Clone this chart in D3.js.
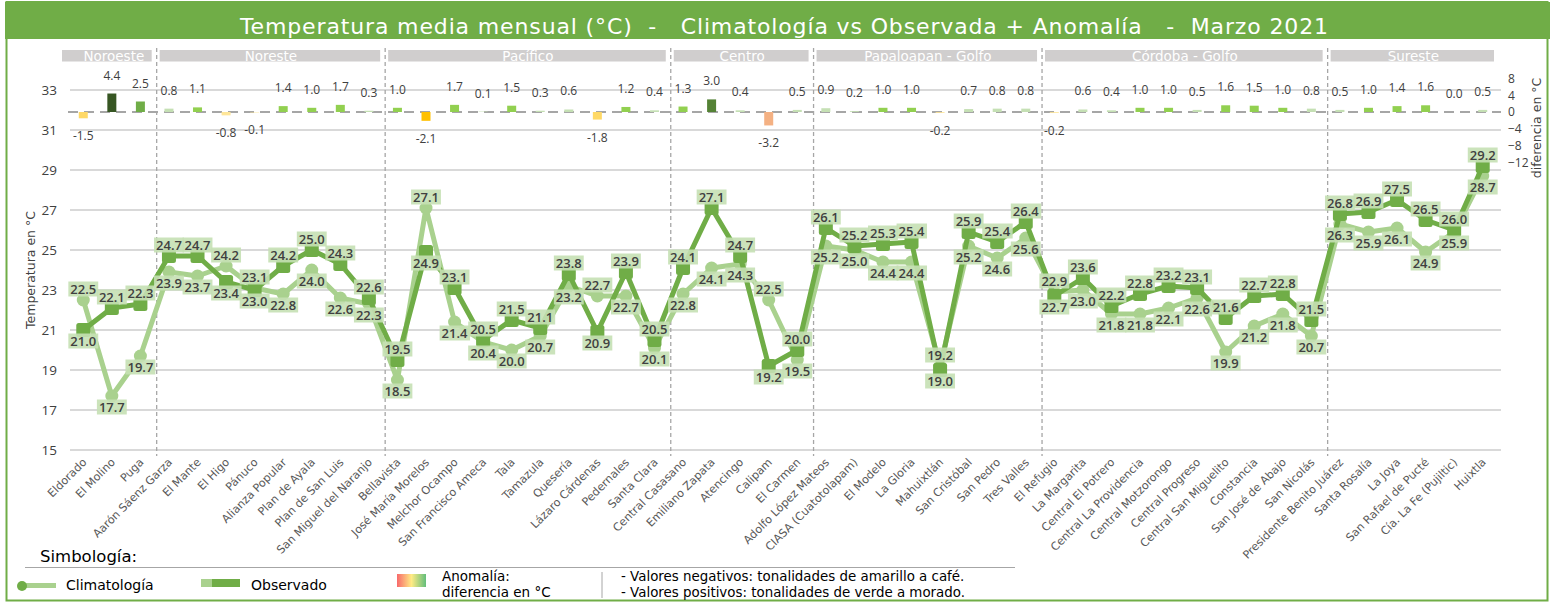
<!DOCTYPE html>
<html><head><meta charset="utf-8">
<script src="https://cdn.jsdelivr.net/npm/d3@7"></script>
<style>
body{margin:0;background:#fff;}
svg text{font-family:"DejaVu Sans","Open Sans",sans-serif;}
svg text.num{font-family:"Open Sans","Noto Sans",sans-serif;}
</style></head>
<body><svg id="c" width="1550" height="607"></svg>
<script>
const regions = ["Noroeste","Noreste","Pacífico","Centro","Papaloapan - Golfo","Córdoba - Golfo","Sureste"];
const regionSizes = [3,8,10,5,8,10,6];
const stations = ["Eldorado","El Molino","Puga",
 "Aarón Sáenz Garza","El Mante","El Higo","Pánuco","Alianza Popular","Plan de Ayala","Plan de San Luis","San Miguel del Naranjo",
 "Bellavista","José María Morelos","Melchor Ocampo","San Francisco Ameca","Tala","Tamazula","Quesería","Lázaro Cárdenas","Pedernales","Santa Clara",
 "Central Casasano","Emiliano Zapata","Atencingo","Calipam","El Carmen",
 "Adolfo López Mateos","CIASA (Cuatotolapam)","El Modelo","La Gloria","Mahuixtlán","San Cristóbal","San Pedro","Tres Valles",
 "El Refugio","La Margarita","Central El Potrero","Central La Providencia","Central Motzorongo","Central Progreso","Central San Miguelito","Constancia","San José de Abajo","San Nicolás",
 "Presidente Benito Juárez","Santa Rosalía","La Joya","San Rafael de Pucté","Cía. La Fe (Pujiltic)","Huixtla"];
const climatologia = [22.5,17.7,19.7,
 23.9,23.7,24.2,23.1,22.8,24.0,22.6,22.3,
 18.5,27.1,21.4,20.4,20.0,20.7,23.2,22.7,22.7,20.1,
 22.8,24.1,24.3,22.5,19.5,
 25.2,25.0,24.4,24.4,19.2,25.2,24.6,25.6,
 22.9,23.0,21.8,21.8,22.1,22.6,19.9,21.2,21.8,20.7,
 26.3,25.9,26.1,24.9,25.9,28.7];
const observado = [21.0,22.1,22.3,
 24.7,24.7,23.4,23.0,24.2,25.0,24.3,22.6,
 19.5,24.9,23.1,20.5,21.5,21.1,23.8,20.9,23.9,20.5,
 24.1,27.1,24.7,19.2,20.0,
 26.1,25.2,25.3,25.4,19.0,25.9,25.4,26.4,
 22.7,23.6,22.2,22.8,23.2,23.1,21.6,22.7,22.8,21.5,
 26.8,26.9,27.5,26.5,26.0,29.2];
const anomalia = [-1.5,4.4,2.5,
 0.8,1.1,-0.8,-0.1,1.4,1.0,1.7,0.3,
 1.0,-2.1,1.7,0.1,1.5,0.3,0.6,-1.8,1.2,0.4,
 1.3,3.0,0.4,-3.2,0.5,
 0.9,0.2,1.0,1.0,-0.2,0.7,0.8,0.8,
 -0.2,0.6,0.4,1.0,1.0,0.5,1.6,1.5,1.0,0.8,
 0.5,1.0,1.4,1.6,0.0,0.5];
const tempTicks = [15,17,19,21,23,25,27,29,31,33];
const anomTicks = [8,4,0,-4,-8,-12];

const svg = d3.select("#c");
const GREEN="#70AD47", LGREEN="#A9D18E", LBL="#C5E0B4", TXT="#404040";

// frame + title
svg.append("rect").attr("x",6.5).attr("y",2).attr("width",1541).attr("height",598.5)
  .attr("fill","none").attr("stroke",GREEN).attr("stroke-width",2);
svg.append("rect").attr("x",5).attr("y",2).attr("width",1545).attr("height",37).attr("fill",GREEN);
svg.append("text").attr("x",240).attr("y",34).attr("fill","#fff")
  .attr("font-size",22).attr("xml:space","preserve")
  .attr("textLength",1088).attr("lengthAdjust","spacing")
  .text("Temperatura media mensual (°C)  -   Climatología vs Observada + Anomalía   -  Marzo 2021");

const x = d3.scaleBand().domain(stations).range([69,1497]);
const cx = d => x(d)+x.bandwidth()/2;
const y = d3.scaleLinear().domain([15,35]).range([450,50]);
const ya = d3.scaleLinear().domain([-12,8]).range([162.4,78.4]);

// gridlines
svg.append("g").selectAll("line").data(tempTicks).join("line")
  .attr("x1",70).attr("x2",1501).attr("y1",d=>y(d)).attr("y2",d=>y(d))
  .attr("stroke","#D9D9D9").attr("stroke-width",2);
// left axis
const yAxis = d3.axisLeft(y).tickValues(tempTicks).tickSize(0).tickPadding(0);
const gy = svg.append("g").attr("transform","translate(57,0)").call(yAxis);
gy.select(".domain").remove();
gy.selectAll("text").attr("class","num").attr("font-size",13.5).attr("fill",TXT);
svg.append("text").attr("transform","translate(35,270) rotate(-90)").attr("text-anchor","middle")
  .attr("font-size",12.5).attr("fill",TXT).text("Temperatura en °C");
// right axis
const aAxis = d3.axisRight(ya).tickValues(anomTicks).tickSize(0).tickPadding(0);
const ga = svg.append("g").attr("transform","translate(1508,0)").call(aAxis);
ga.select(".domain").remove();
ga.selectAll("text").attr("class","num").attr("font-size",12).attr("fill",TXT);
svg.append("text").attr("transform","translate(1541,128) rotate(-90)").attr("text-anchor","middle")
  .attr("font-size",12.5).attr("fill",TXT).text("diferencia en °C");

// region bounds
let starts=[], acc=0;
regionSizes.forEach(n=>{starts.push(acc); acc+=n;});
const step = x.step();
const rx0 = i => 69 + starts[i]*step;
const rx1 = i => 69 + (starts[i]+regionSizes[i])*step;
// dividers
svg.append("g").selectAll("line").data(starts.slice(1)).join("line")
  .attr("x1",d=>69+d*step+2).attr("x2",d=>69+d*step+2).attr("y1",48).attr("y2",456)
  .attr("stroke","#A6A6A6").attr("stroke-width",1.3).attr("stroke-dasharray","4,3");
// headers
const hg = svg.append("g").selectAll("g").data(regions).join("g");
hg.append("rect").attr("x",(d,i)=>rx0(i)+(i===0?-7:5)).attr("y",50)
  .attr("width",(d,i)=>rx1(i)-rx0(i)-(i===0?-7:5)-3).attr("height",11.5).attr("fill","#D0CECE");
hg.append("text").attr("x",(d,i)=>(rx0(i)+rx1(i))/2+2).attr("y",61).attr("text-anchor","middle")
  .attr("fill","#fff").attr("font-size",13.5).text(d=>d);

// anomaly zero line
svg.append("line").attr("x1",68).attr("x2",1501).attr("y1",ya(0)).attr("y2",ya(0))
  .attr("stroke","#A6A6A6").attr("stroke-width",2).attr("stroke-dasharray","10,6");
// anomaly bars
const acol = v => v>=4?"#375623":v>=3?"#548235":v>=2?"#70AD47":v>=1?"#92D050":v>=0?"#C5E0B4":v>=-1?"#FFE699":v>=-2?"#FFD966":v>=-3?"#FFC000":"#F4B183";
const bw = 9;
svg.append("g").selectAll("rect").data(anomalia).join("rect")
  .attr("x",(d,i)=>cx(stations[i])-bw/2).attr("width",bw)
  .attr("y",d=>Math.min(ya(d),ya(0))).attr("height",d=>Math.abs(ya(d)-ya(0)))
  .attr("fill",d=>acol(d));
svg.append("g").selectAll("text").data(anomalia).join("text").attr("class","num")
  .attr("x",(d,i)=>cx(stations[i])).attr("y",d=>d>=0?ya(d)-18+4:ya(d)+18+4)
  .attr("text-anchor","middle").attr("font-size",12).attr("font-weight",500).attr("fill",TXT)
  .text(d=>d.toFixed(1));

// lines
const line = arr => d3.line().x((d,i)=>cx(stations[i])).y(d=>y(d))(arr);
svg.append("path").attr("d",line(climatologia)).attr("fill","none").attr("stroke",LGREEN)
  .attr("stroke-width",5).attr("stroke-linejoin","round");
svg.append("g").selectAll("circle").data(climatologia).join("circle")
  .attr("cx",(d,i)=>cx(stations[i])).attr("cy",d=>y(d)).attr("r",6.5).attr("fill",LGREEN);
svg.append("path").attr("d",line(observado)).attr("fill","none").attr("stroke",GREEN)
  .attr("stroke-width",5).attr("stroke-linejoin","round");
svg.append("g").selectAll("rect").data(observado).join("rect")
  .attr("x",(d,i)=>cx(stations[i])-7).attr("y",d=>y(d)-7).attr("width",14).attr("height",14)
  .attr("rx",2.5).attr("fill",GREEN);

// data labels
svg.append("defs").append("clipPath").attr("id","clp").append("rect")
  .attr("x",0).attr("y",0).attr("width",1503).attr("height",607);
const lg = svg.append("g").attr("clip-path","url(#clp)");
function labels(arr, other){
  const g = lg.append("g");
  arr.forEach((v,i)=>{
    const up = v >= other[i];
    const ly = y(v) + (up ? -11 : 11);
    const t = g.append("text").attr("class","num").attr("x",cx(stations[i])).attr("y",ly+4.7)
      .attr("text-anchor","middle").attr("font-size",13).attr("font-weight",600)
      .attr("fill",TXT).text(v.toFixed(1));
    const bb = t.node().getBBox();
    g.insert("rect","text").attr("x",bb.x-2).attr("y",ly-7.5).attr("width",bb.width+4).attr("height",15)
      .attr("fill",LBL).attr("opacity",0.9);
  });
}
labels(climatologia, observado);
labels(observado, climatologia);

// x labels
svg.append("g").selectAll("text").data(stations).join("text")
  .attr("transform",d=>`translate(${cx(d)+4},463) rotate(-45)`)
  .attr("text-anchor","end").attr("font-size",11.2).attr("fill","#595959").text(d=>d);

// legend
svg.append("text").attr("x",40).attr("y",562).attr("font-size",16.5).attr("fill","#000").text("Simbología:");
svg.append("line").attr("x1",25).attr("x2",1015).attr("y1",567.5).attr("y2",567.5).attr("stroke","#A6A6A6").attr("stroke-width",1);
svg.append("rect").attr("x",26).attr("y",583).attr("width",30).attr("height",5).attr("fill",LGREEN);
svg.append("circle").attr("cx",22).attr("cy",586).attr("r",5).attr("fill",GREEN);
svg.append("text").attr("x",66).attr("y",590).attr("font-size",14).attr("fill","#000").text("Climatología");
svg.append("rect").attr("x",201).attr("y",579).attr("width",12).attr("height",8).attr("fill",LGREEN);
svg.append("rect").attr("x",212).attr("y",579).attr("width",28).attr("height",8).attr("fill",GREEN);
svg.append("text").attr("x",251).attr("y",590).attr("font-size",14).attr("fill","#000").text("Observado");
const grad = svg.select("defs").append("linearGradient").attr("id","ag");
grad.append("stop").attr("offset","0%").attr("stop-color","#F8696B");
grad.append("stop").attr("offset","50%").attr("stop-color","#FFEB84");
grad.append("stop").attr("offset","100%").attr("stop-color","#63BE7B");
svg.append("rect").attr("x",397).attr("y",574).attr("width",29).attr("height",13).attr("fill","url(#ag)");
svg.append("text").attr("x",442).attr("y",581).attr("font-size",13.5).attr("fill","#000").text("Anomalía:");
svg.append("text").attr("x",442).attr("y",597).attr("font-size",13.5).attr("fill","#000").text("diferencia en °C");
svg.append("line").attr("x1",602).attr("x2",602).attr("y1",572).attr("y2",598).attr("stroke","#A6A6A6");
svg.append("text").attr("x",621).attr("y",581).attr("font-size",13.4).attr("fill","#000").text("- Valores negativos: tonalidades de amarillo a café.");
svg.append("text").attr("x",621).attr("y",597).attr("font-size",13.4).attr("fill","#000").text("- Valores positivos: tonalidades de verde a morado.");
</script></body></html>
